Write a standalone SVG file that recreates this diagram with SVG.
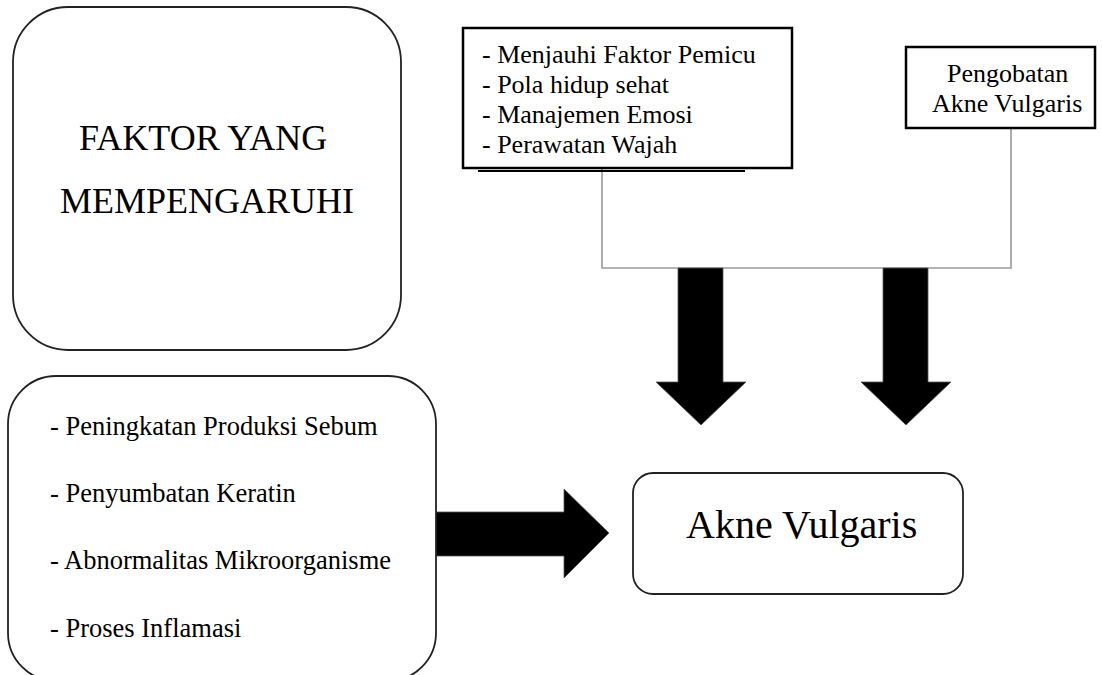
<svg xmlns="http://www.w3.org/2000/svg" width="1102" height="675" viewBox="0 0 1102 675">
<rect width="1102" height="675" fill="#fff"/>
<g id="connectors">
<polyline fill="none" stroke="#9a9a9a" stroke-width="1.6" points="602,169 602,268 1011,268 1011,128"/>
<g fill="#000" stroke="#555" stroke-width="0.8">
<polygon points="678,268 723,268 723,382 746,382 701,425 656,382 678,382"/>
<polygon points="883,268 928,268 928,382 951,382 906,425 861,382 883,382"/>
<polygon points="436,512 564,512 564,489 609,533 564,578 564,556 436,556"/>
</g>
</g>
<g id="faktor">
<rect x="13" y="7" width="388" height="343" rx="55" ry="55" fill="#fff" stroke="#222" stroke-width="1.8"/>
<text x="79" y="150" font-family="Liberation Serif" font-size="36">FAKTOR YANG</text>
<text x="60" y="213" font-family="Liberation Serif" font-size="36">MEMPENGARUHI</text>
</g>
<g id="pencegahan">
<line x1="478" y1="171" x2="745" y2="171" stroke="#000" stroke-width="2"/>
<rect x="463" y="28" width="329" height="140" fill="#fff" stroke="#000" stroke-width="2.5"/>
<text x="482" y="63" font-family="Liberation Serif" font-size="26">- Menjauhi Faktor Pemicu</text>
<text x="482" y="93" font-family="Liberation Serif" font-size="26">- Pola hidup sehat</text>
<text x="482" y="123" font-family="Liberation Serif" font-size="26">- Manajemen Emosi</text>
<text x="482" y="153" font-family="Liberation Serif" font-size="26">- Perawatan Wajah</text>
</g>
<g id="pengobatan">
<rect x="906" y="47" width="189" height="81" fill="#fff" stroke="#000" stroke-width="2.5"/>
<text x="947" y="82" font-family="Liberation Serif" font-size="26">Pengobatan</text>
<text x="932" y="112" font-family="Liberation Serif" font-size="26">Akne Vulgaris</text>
</g>
<g id="penyebab">
<rect x="8" y="376" width="428" height="305" rx="48" ry="48" fill="#fff" stroke="#222" stroke-width="1.8"/>
<text x="50" y="435" font-family="Liberation Serif" font-size="26.5">- Peningkatan Produksi Sebum</text>
<text x="50" y="502" font-family="Liberation Serif" font-size="26.5">- Penyumbatan Keratin</text>
<text x="50" y="569" font-family="Liberation Serif" font-size="26.5">- Abnormalitas Mikroorganisme</text>
<text x="50" y="637" font-family="Liberation Serif" font-size="26.5">- Proses Inflamasi</text>
</g>
<g id="akne">
<rect x="633" y="473" width="330" height="121" rx="20" ry="20" fill="#fff" stroke="#222" stroke-width="1.8"/>
<text x="686" y="538" font-family="Liberation Serif" font-size="40">Akne Vulgaris</text>
</g>
</svg>
